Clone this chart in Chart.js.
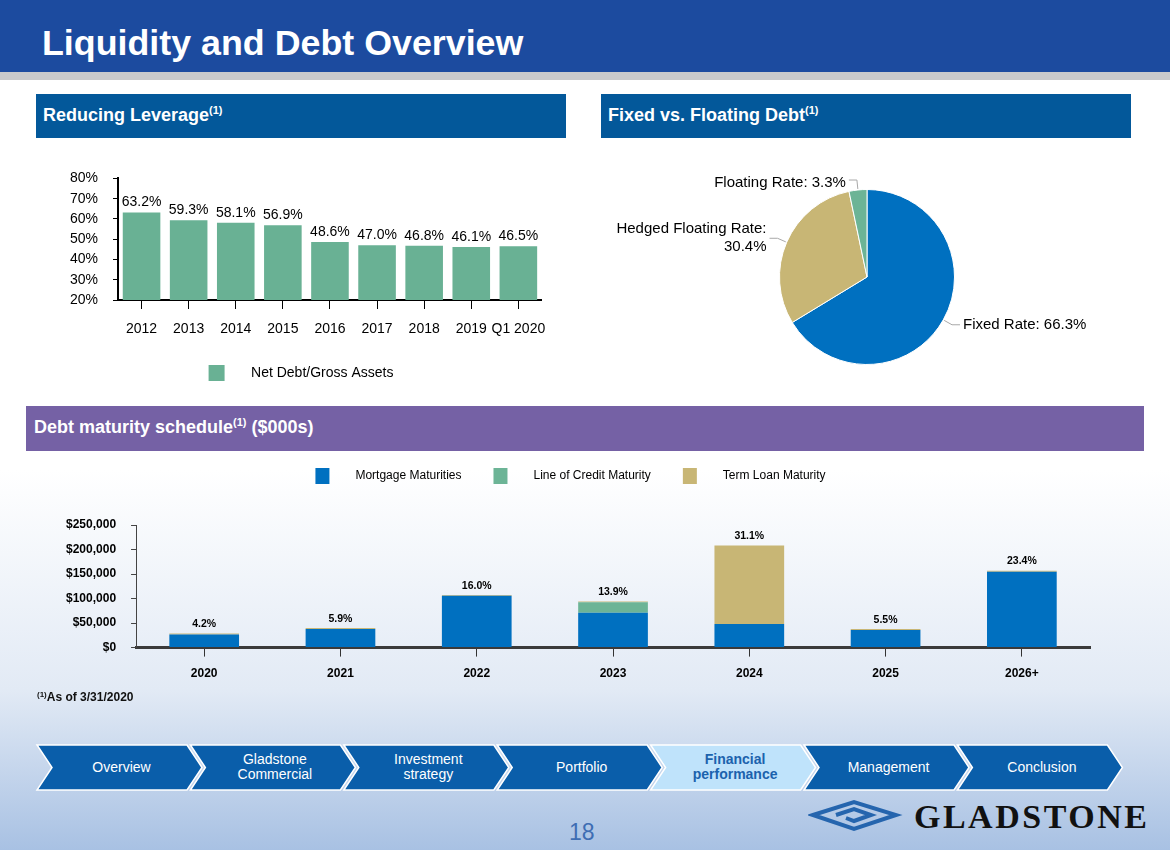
<!DOCTYPE html>
<html>
<head>
<meta charset="utf-8">
<script src="https://cdn.jsdelivr.net/npm/chart.js@4.4.1/dist/chart.umd.min.js"></script>
<style>
  html, body { margin: 0; padding: 0; }
  body {
    width: 1170px; height: 850px; position: relative; overflow: hidden;
    font-family: "Liberation Sans", Arial, sans-serif;
    background: linear-gradient(to bottom, #fff 0, #fff 470px, #e2eaf5 690px, #a8c1e3 850px);
  }
  .topbar { position: absolute; left: 0; top: 0; width: 1170px; height: 72px; background: #1c4b9f; }
  .topline { position: absolute; left: 0; top: 72px; width: 1170px; height: 8px; background: #c9cacc; }
  h1 { position: absolute; left: 42px; top: 22px; margin: 0; color: #fff; font-size: 35.8px; font-weight: bold; line-height: 42px; }
  .sec { position: absolute; color: #fff; font-weight: bold; font-size: 18px; box-sizing: border-box; padding: 11px 0 0 7px; line-height: 20px; }
  .sec sup { font-size: 11px; vertical-align: 7px; line-height: 0; }
  .blue { background: #03589a; height: 44px; }
  .purple { background: #7561a5; height: 45px; }
  .box { position: absolute; }
  .foot { position: absolute; left: 37px; top: 690px; font-size: 12px; font-weight: bold; color: #111; }
  .foot sup { font-size: 8px; vertical-align: 4px; line-height: 0; }
  .page { position: absolute; left: 569px; top: 819px; font-size: 23px; color: #3e6db3; }
  .logo { position: absolute; left: 914px; top: 797px; font-family: "Liberation Serif", "Times New Roman", serif; font-weight: bold; font-size: 34px; letter-spacing: 2.5px; color: #111; line-height: 40px; }
</style>
</head>
<body>
<div class="topbar"></div>
<div class="topline"></div>
<h1>Liquidity and Debt Overview</h1>

<div class="sec blue" style="left:36px;top:94px;width:530px;">Reducing Leverage<sup>(1)</sup></div>
<div class="sec blue" style="left:601px;top:94px;width:530px;">Fixed vs. Floating Debt<sup>(1)</sup></div>
<div class="sec purple" style="left:26px;top:406px;width:1118px;padding-left:8px;">Debt maturity schedule<sup>(1)</sup> ($000s)</div>

<div class="box" style="left:58px;top:155px;width:500px;height:236px;"><canvas id="lev"></canvas></div>
<div class="box" style="left:607px;top:150px;width:520px;height:240px;"><canvas id="pie"></canvas></div>
<div class="box" style="left:30px;top:436px;width:1080px;height:255px;"><canvas id="mat"></canvas></div>

<div class="foot"><sup>(1)</sup>As of 3/31/2020</div>

<svg style="position:absolute;left:0;top:740px" width="1170" height="56" id="nav"></svg>

<div class="page">18</div>
<svg style="position:absolute;left:808px;top:799px" width="100" height="34">
  <g fill="none" stroke="#2565ae" stroke-width="4">
    <polygon points="5,16 46,3 88,16 46,30"/>
    <polyline points="28,16 46,10 63,16 46,22 38,19"/>
  </g>
</svg>
<div class="logo">GLADSTONE</div>

<script>
// ---- data ----
const levYears = ['2012', '2013', '2014', '2015', '2016', '2017', '2018', '2019', 'Q1 2020'];
const levValues = [63.2, 59.3, 58.1, 56.9, 48.6, 47.0, 46.8, 46.1, 46.5];
const levTicks = [20, 30, 40, 50, 60, 70, 80];

const pieNames = ['Fixed Rate', 'Hedged Floating Rate', 'Floating Rate'];
const pieValues = [66.3, 30.4, 3.3];

const matYears = ['2020', '2021', '2022', '2023', '2024', '2025', '2026+'];
const mortgage = [26500, 38000, 105500, 71000, 48000, 36000, 154500];
const lineOfCredit = [0, 0, 0, 21500, 0, 0, 0];
const termLoan = [2000, 2000, 2000, 1500, 160000, 2000, 2000];
const matShare = ['4.2%', '5.9%', '16.0%', '13.9%', '31.1%', '5.5%', '23.4%'];

const navItems = [['Overview'], ['Gladstone', 'Commercial'], ['Investment', 'strategy'], ['Portfolio'],
  ['Financial', 'performance'], ['Management'], ['Conclusion']];
const navActive = 4;

Chart.defaults.font.family = '"Liberation Sans", Arial, sans-serif';
Chart.defaults.color = '#000';

// labels drawn above the top of each bar column
const topLabels = {
  id: 'topLabels',
  afterDatasetsDraw(chart, args, opts) {
    const { ctx } = chart;
    const meta = chart.getDatasetMeta(chart.data.datasets.length - 1);
    ctx.save();
    ctx.font = opts.font;
    ctx.fillStyle = '#000';
    ctx.textAlign = 'center';
    ctx.textBaseline = 'bottom';
    meta.data.forEach((bar, i) => {
      ctx.fillText(opts.texts[i], bar.x, bar.y - opts.gap);
    });
    ctx.restore();
  }
};

// extra room under the legend
const legendGap = {
  id: 'legendGap',
  beforeInit(chart, args, opts) {
    const fit = chart.legend.fit;
    chart.legend.fit = function () {
      fit.bind(chart.legend)();
      this.height += opts.gap || 0;
    };
  }
};

const pieLabels = {
  id: 'pieLabels',
  afterDatasetsDraw(chart) {
    const { ctx } = chart;
    const meta = chart.getDatasetMeta(0);
    ctx.save();
    ctx.font = '15px "Liberation Sans", Arial, sans-serif';
    ctx.textBaseline = 'middle';
    meta.data.forEach((arc, i) => {
      const p = arc.getProps(['x', 'y', 'startAngle', 'endAngle', 'outerRadius'], true);
      const a = (p.startAngle + p.endAngle) / 2;
      const c = Math.cos(a), s = Math.sin(a);
      const x1 = p.x + c * (p.outerRadius + 1), y1 = p.y + s * (p.outerRadius + 1);
      const x2 = p.x + c * (p.outerRadius + 10), y2 = p.y + s * (p.outerRadius + 10);
      const right = c >= 0;
      const x3 = x2 + (right ? 8 : -8);
      ctx.strokeStyle = '#a8a8a8';
      ctx.lineWidth = 1;
      ctx.beginPath();
      ctx.moveTo(x1, y1);
      ctx.lineTo(x2, y2);
      ctx.lineTo(x3, y2);
      ctx.stroke();
      const val = pieValues[i].toFixed(1) + '%';
      const lines = pieNames[i].length > 14 ? [pieNames[i] + ':', val] : [pieNames[i] + ': ' + val];
      ctx.fillStyle = '#000';
      ctx.textAlign = right ? 'left' : 'right';
      const y0 = y2 - (lines.length - 1) * 9 + (lines.length === 1 && s < -0.9 ? 3 : 0);
      lines.forEach((t, k) => ctx.fillText(t, x3 + (right ? 3 : -3), y0 + k * 18));
    });
    ctx.restore();
  }
};

new Chart(document.getElementById('lev'), {
  type: 'bar',
  data: {
    labels: levYears,
    datasets: [{ label: 'Net Debt/Gross Assets', data: levValues, backgroundColor: '#69b194' }]
  },
  options: {
    responsive: true, maintainAspectRatio: false, animation: false,
    layout: { padding: { top: 6, right: 14, left: 0 } },
    datasets: { bar: { categoryPercentage: 0.84, barPercentage: 0.95 } },
    scales: {
      x: {
        afterFit: (s) => { s.height = 43; },
        grid: { display: true, drawOnChartArea: false, offset: false, color: '#000', tickLength: 9 },
        border: { color: '#000', width: 2 },
        ticks: { font: { size: 14 }, padding: 12, maxRotation: 0, autoSkip: false }
      },
      y: {
        min: 20, max: 80,
        afterFit: (s) => { s.width = 60; },
        afterBuildTicks: (s) => { s.ticks = levTicks.map(v => ({ value: v })); },
        grid: { display: true, drawOnChartArea: false, color: '#000', tickLength: 5 },
        border: { color: '#000', width: 2 },
        ticks: { font: { size: 14 }, padding: 15, autoSkip: false, callback: v => v + '%' }
      }
    },
    plugins: {
      legend: {
        position: 'bottom',
        labels: { boxWidth: 16, boxHeight: 16, font: { size: 14 }, padding: 22,
          generateLabels: (ch) => ch.data.datasets.map((d, i) => ({
            text: '     ' + d.label, fillStyle: d.backgroundColor, strokeStyle: d.backgroundColor, lineWidth: 0, datasetIndex: i })) }
      },
      tooltip: { enabled: false },
      topLabels: { texts: levValues.map(v => v.toFixed(1) + '%'), font: '14px "Liberation Sans", Arial', gap: 3 }
    }
  },
  plugins: [topLabels]
});

new Chart(document.getElementById('pie'), {
  type: 'pie',
  data: {
    labels: pieNames,
    datasets: [{ data: pieValues, backgroundColor: ['#0070c0', '#c8b675', '#6cb496'], borderColor: '#fff', borderWidth: 1 }]
  },
  options: {
    responsive: true, maintainAspectRatio: false, animation: false,
    layout: { padding: { left: 172, right: 172, top: 39, bottom: 25 } },
    plugins: { legend: { display: false }, tooltip: { enabled: false } }
  },
  plugins: [pieLabels]
});

new Chart(document.getElementById('mat'), {
  type: 'bar',
  data: {
    labels: matYears,
    datasets: [
      { label: 'Mortgage Maturities', data: mortgage, backgroundColor: '#0070c0' },
      { label: 'Line of Credit Maturity', data: lineOfCredit, backgroundColor: '#6cb496' },
      { label: 'Term Loan Maturity', data: termLoan, backgroundColor: '#c8b675' }
    ]
  },
  options: {
    responsive: true, maintainAspectRatio: false, animation: false,
    layout: { padding: { left: 21, right: 20 } },
    datasets: { bar: { categoryPercentage: 0.55, barPercentage: 0.93 } },
    scales: {
      x: {
        stacked: true,
        grid: { display: true, drawOnChartArea: false, offset: false, color: '#333', tickLength: 9 },
        border: { color: '#3a3a3a', width: 3 },
        ticks: { font: { size: 12, weight: 'bold' }, padding: 10, maxRotation: 0 }
      },
      y: {
        stacked: true, min: 0, max: 250000,
        grid: { display: true, drawOnChartArea: false, color: '#444', tickLength: 5 },
        border: { color: '#444', width: 1 },
        ticks: { stepSize: 50000, font: { size: 12, weight: 'bold' }, padding: 15,
          callback: v => '$' + v.toLocaleString('en-US') }
      }
    },
    plugins: {
      legend: {
        position: 'top',
        labels: { boxWidth: 14, boxHeight: 16, font: { size: 12 }, padding: 32,
          generateLabels: (ch) => ch.data.datasets.map((d, i) => ({
            text: '      ' + d.label, fillStyle: d.backgroundColor, strokeStyle: d.backgroundColor, lineWidth: 0, datasetIndex: i })) }
      },
      legendGap: { gap: 31 },
      tooltip: { enabled: false },
      topLabels: { texts: matShare, font: 'bold 10.5px "Liberation Sans", Arial', gap: 4 }
    }
  },
  plugins: [topLabels, legendGap]
});

// ---- section navigation chevrons ----
(function () {
  const svg = document.getElementById('nav');
  const ns = 'http://www.w3.org/2000/svg';
  const step = 153.4, w = 165, tip = 15, top = 5, h = 45;
  navItems.forEach((lines, i) => {
    const L = 37 + i * step, R = L + w, mid = top + h / 2;
    const poly = document.createElementNS(ns, 'polygon');
    poly.setAttribute('points', [[L, top], [R - tip, top], [R, mid], [R - tip, top + h], [L, top + h], [L + tip, mid]].map(p => p.join(',')).join(' '));
    poly.setAttribute('fill', i === navActive ? '#bfe3fb' : '#0a5eaa');
    poly.setAttribute('stroke', '#fff');
    poly.setAttribute('stroke-width', '1.5');
    svg.appendChild(poly);
    const cx = L + w / 2 + 2;
    lines.forEach((t, k) => {
      const tx = document.createElementNS(ns, 'text');
      tx.setAttribute('x', cx);
      tx.setAttribute('y', mid + 4 + (k - (lines.length - 1) / 2) * 15);
      tx.setAttribute('text-anchor', 'middle');
      tx.setAttribute('font-family', '"Liberation Sans", Arial, sans-serif');
      tx.setAttribute('font-size', '14');
      if (i === navActive) tx.setAttribute('font-weight', 'bold');
      tx.setAttribute('fill', i === navActive ? '#1b62ad' : '#fff');
      tx.textContent = t;
      svg.appendChild(tx);
    });
  });
})();
</script>
</body>
</html>
